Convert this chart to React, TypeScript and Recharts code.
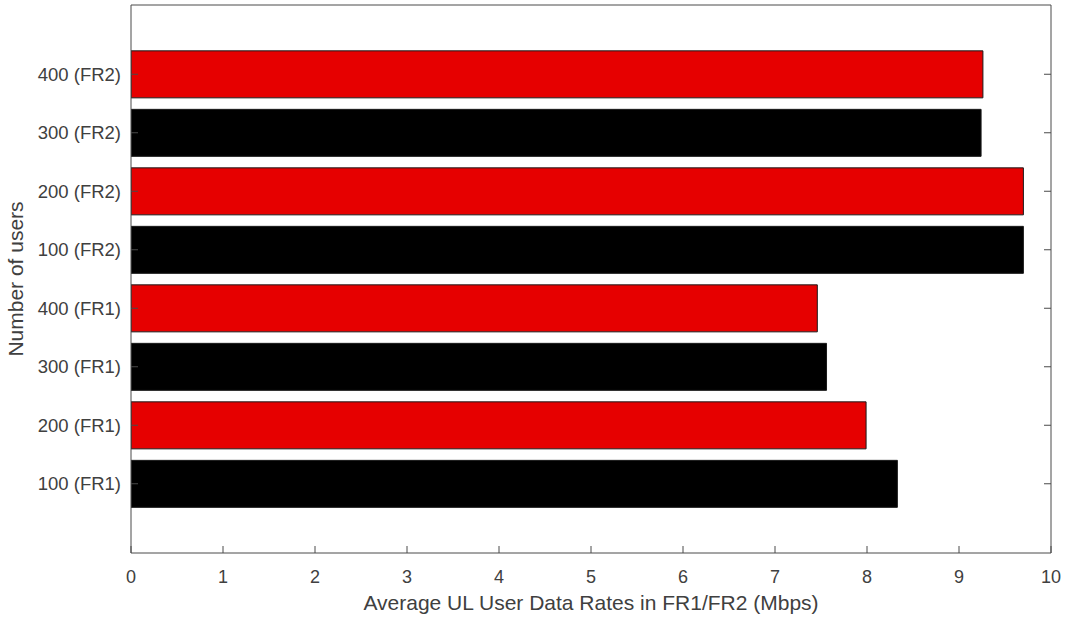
import React from "react";
import { BarChart, Bar, XAxis, YAxis, Cell, Label } from "recharts";

const categories = [
  "100 (FR1)",
  "200 (FR1)",
  "300 (FR1)",
  "400 (FR1)",
  "100 (FR2)",
  "200 (FR2)",
  "300 (FR2)",
  "400 (FR2)",
];
const rates = [8.33, 7.99, 7.56, 7.46, 9.7, 9.7, 9.24, 9.26];
const xTicks = [0, 1, 2, 3, 4, 5, 6, 7, 8, 9, 10];

const data = categories.map((name, i) => ({ name, rate: rates[i] }));

const FONT = "'Liberation Sans', Arial, Helvetica, sans-serif";
const TEXT = "#404040";
const AXIS = "#4a4a4a";
const RED = "#e60000";
const BLACK = "#000000";
const TICK_LEN = 7;
const X_MARGIN = 17;
const Y_MARGIN = 10;

const BottomTick = (props: any) => {
  const { x, y, payload } = props;
  const ay = y - X_MARGIN;
  return (
    <g>
      <line x1={x} x2={x} y1={ay} y2={ay - TICK_LEN} stroke={AXIS} strokeWidth={1} />
      <text x={x} y={y} dy="0.71em" textAnchor="middle" fontSize={18} fill={TEXT} fontFamily={FONT}>
        {payload.value}
      </text>
    </g>
  );
};

const TopTick = (props: any) => {
  const { x, y } = props;
  return <line x1={x} x2={x} y1={y} y2={y + TICK_LEN} stroke={AXIS} strokeWidth={1} />;
};

const LeftTick = (props: any) => {
  const { x, y, payload } = props;
  const ax = x + Y_MARGIN;
  return (
    <g>
      <line x1={ax} x2={ax + TICK_LEN} y1={y} y2={y} stroke={AXIS} strokeWidth={1} />
      <text x={x} y={y} dy="0.355em" textAnchor="end" fontSize={18.5} fill={TEXT} fontFamily={FONT}>
        {payload.value}
      </text>
    </g>
  );
};

const RightTick = (props: any) => {
  const { x, y } = props;
  return <line x1={x} x2={x - TICK_LEN} y1={y} y2={y} stroke={AXIS} strokeWidth={1} />;
};

const XLabel = (props: any) => {
  const vb = props.viewBox || {};
  const cx = vb.x + vb.width / 2;
  const by = vb.y + vb.height - 9.5;
  return (
    <text x={cx} y={by} textAnchor="middle" fontSize={21} fill={TEXT} fontFamily={FONT}>
      Average UL User Data Rates in FR1/FR2 (Mbps)
    </text>
  );
};

const YLabel = (props: any) => {
  const vb = props.viewBox || {};
  const bx = vb.x + 23;
  const cy = vb.y + vb.height / 2;
  return (
    <text
      x={bx}
      y={cy}
      transform={`rotate(-90 ${bx} ${cy})`}
      textAnchor="middle"
      fontSize={21}
      fill={TEXT}
      fontFamily={FONT}
    >
      Number of users
    </text>
  );
};

export default function App() {
  return (
    <div style={{ position: "absolute", left: 0, top: 0, background: "#fff" }}>
      <BarChart
        width={1078}
        height={619}
        data={data}
        layout="vertical"
        margin={{ top: 4, right: 26, left: 0, bottom: 0 }}
        barCategoryGap="10%"
      >
        <XAxis
          type="number"
          domain={[0, 10]}
          ticks={xTicks}
          interval={0}
          allowDataOverflow
          height={66}
          axisLine={{ stroke: AXIS, strokeWidth: 1 }}
          tickLine={false}
          tickSize={0}
          tickMargin={X_MARGIN}
          tick={<BottomTick />}
        >
          <Label content={<XLabel />} />
        </XAxis>
        <XAxis
          xAxisId="top"
          orientation="top"
          type="number"
          domain={[0, 10]}
          ticks={xTicks}
          interval={0}
          height={1}
          axisLine={{ stroke: AXIS, strokeWidth: 1 }}
          tickLine={false}
          tickSize={0}
          tickMargin={0}
          tick={<TopTick />}
        />
        <YAxis
          type="category"
          dataKey="name"
          reversed
          width={131}
          padding={{ top: 40, bottom: 40 }}
          interval={0}
          axisLine={{ stroke: AXIS, strokeWidth: 1 }}
          tickLine={false}
          tickSize={0}
          tickMargin={Y_MARGIN}
          tick={<LeftTick />}
        >
          <Label content={<YLabel />} />
        </YAxis>
        <YAxis
          yAxisId="right"
          orientation="right"
          type="category"
          dataKey="name"
          reversed
          width={1}
          padding={{ top: 40, bottom: 40 }}
          interval={0}
          axisLine={{ stroke: AXIS, strokeWidth: 1 }}
          tickLine={false}
          tickSize={0}
          tickMargin={0}
          tick={<RightTick />}
        />
        <Bar dataKey="rate" isAnimationActive={false} stroke="#1a1a1a" strokeWidth={1}>
          {data.map((d, i) => (
            <Cell key={d.name} fill={i % 2 === 0 ? BLACK : RED} />
          ))}
        </Bar>
      </BarChart>
    </div>
  );
}
